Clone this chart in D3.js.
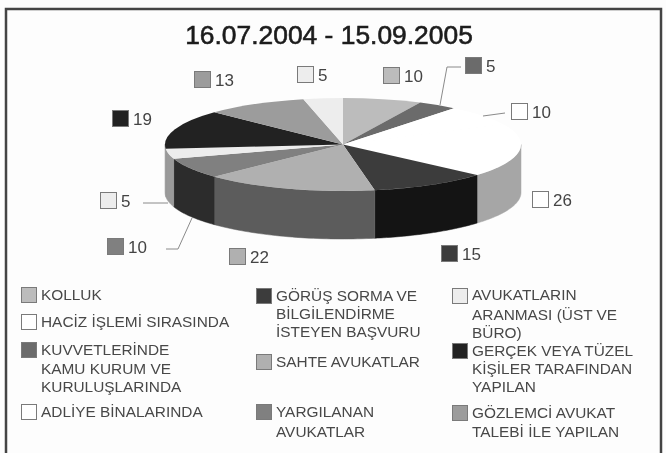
<!DOCTYPE html>
<html>
<head>
  <meta charset="utf-8">
  <title>16.07.2004 - 15.09.2005</title>
  <script src="https://d3js.org/d3.v7.min.js"></script>
  <style>
    body { margin: 0; background: #fdfdfd; overflow: hidden; }
    svg { display: block; filter: blur(0.55px); }
    text { font-family: "Liberation Sans", sans-serif; }
  </style>
</head>
<body>
  <svg id="chart" width="666" height="453"></svg>
  <script>
    // slice values, clockwise from 12 o'clock
    const sliceValues = [10, 5, 10, 26, 15, 22, 10, 5, 19, 13, 5];
    const sliceTopColors = ["#bcbcbc", "#6b6b6b", "#ffffff", "#ffffff", "#3c3c3c", "#b0b0b0", "#808080", "#ededed", "#222222", "#9c9c9c", "#ededed"];
    const sliceSideColors = ["#bcbcbc", "#6b6b6b", "#a6a6a6", "#a6a6a6", "#141414", "#5c5c5c", "#2c2c2c", "#9a9a9a", "#9a9a9a", "#9c9c9c", "#ededed"];

    // where each slice's value label goes: swatch left/top
    const labelX = [383, 465, 511, 532, 441, 229, 107, 100, 112, 194, 297];
    const labelY = [67, 57, 103, 191, 245, 248, 238, 192, 110, 71, 66];

    // leader lines
    const leaders = [
      [[440, 105], [447, 67], [461, 67]],
      [[483, 116], [505, 113]],
      [[143, 203], [168, 203]],
      [[192, 218], [178, 249], [166, 249]]
    ];

    const legendNames = [
      ["KOLLUK"],
      ["HACİZ İŞLEMİ SIRASINDA"],
      ["KUVVETLERİNDE", "KAMU KURUM VE", "KURULUŞLARINDA"],
      ["ADLİYE BİNALARINDA"],
      ["GÖRÜŞ SORMA VE", "BİLGİLENDİRME", "İSTEYEN BAŞVURU"],
      ["SAHTE AVUKATLAR"],
      ["YARGILANAN", "AVUKATLAR"],
      ["AVUKATLARIN", "ARANMASI (ÜST VE", "BÜRO)"],
      ["GERÇEK VEYA TÜZEL", "KİŞİLER TARAFINDAN", "YAPILAN"],
      ["GÖZLEMCİ AVUKAT", "TALEBİ İLE YAPILAN"]
    ];
    const legendColors = ["#bcbcbc", "#ffffff", "#6b6b6b", "#ffffff", "#3c3c3c", "#b0b0b0", "#808080", "#ededed", "#222222", "#9c9c9c"];
    const legendSwatchX = [21, 21, 21, 21, 256, 256, 256, 452, 452, 452];
    const legendSwatchY = [287, 314, 342, 404, 288, 354, 404, 288, 343, 405];
    const legendBaselines = [[300], [327], [355, 374, 392], [417], [301, 319, 337], [367], [417, 437], [300, 320, 338], [356, 374, 392], [418, 437]];

    const svg = d3.select("#chart");

    // frame, its bottom edge is cut off by the scan
    svg.append("rect")
      .attr("x", 6).attr("y", 9).attr("width", 655).attr("height", 460)
      .attr("fill", "#fdfdfd").attr("stroke", "#444").attr("stroke-width", 2.5);

    svg.append("text")
      .attr("x", 329).attr("y", 44)
      .attr("text-anchor", "middle")
      .attr("font-size", 26.4)
      .attr("fill", "#1c1c1c").attr("stroke", "#1c1c1c").attr("stroke-width", 0.6)
      .text("16.07.2004 - 15.09.2005");

    // the pie lies flat: top is an ellipse, wall hangs below it
    const cx = 343, cy = 144.5, rx = 178, ry = 46.5, depth = 48;
    const arcs = d3.pie().sort(null)(sliceValues);
    const px = a => cx + rx * Math.sin(a);
    const py = a => cy - ry * Math.cos(a);

    function wallPath(a0, a1) {
      const p = d3.path();
      p.moveTo(px(a0), py(a0));
      for (let i = 1; i <= 40; i++) {
        const a = a0 + (a1 - a0) * i / 40;
        p.lineTo(px(a), py(a));
      }
      for (let i = 40; i >= 0; i--) {
        const a = a0 + (a1 - a0) * i / 40;
        p.lineTo(px(a), py(a) + depth);
      }
      p.closePath();
      return p.toString();
    }

    // only the front half of the wall shows
    svg.append("g").selectAll("path")
      .data(arcs.filter(d => d.endAngle > Math.PI / 2 && d.startAngle < Math.PI * 1.5))
      .join("path")
      .attr("d", d => wallPath(Math.max(d.startAngle, Math.PI / 2), Math.min(d.endAngle, Math.PI * 1.5)))
      .attr("fill", d => sliceSideColors[d.index])
      .attr("stroke", d => sliceSideColors[d.index])
      .attr("stroke-width", 0.5);

    const arc = d3.arc().innerRadius(0).outerRadius(rx);
    svg.append("g")
      .attr("transform", `translate(${cx},${cy}) scale(1,${ry / rx})`)
      .selectAll("path")
      .data(arcs)
      .join("path")
      .attr("d", arc)
      .attr("fill", d => sliceTopColors[d.index]);

    // leaders
    svg.append("g").selectAll("path")
      .data(leaders)
      .join("path")
      .attr("d", d3.line())
      .attr("fill", "none").attr("stroke", "#8a8a8a").attr("stroke-width", 1);

    // value labels
    const valueLabels = svg.append("g").selectAll("g")
      .data(sliceValues)
      .join("g")
      .attr("transform", (d, i) => `translate(${labelX[i]},${labelY[i]})`);
    valueLabels.append("rect")
      .attr("x", 0.5).attr("y", 0.5).attr("width", 16).attr("height", 16)
      .attr("fill", (d, i) => sliceTopColors[i])
      .attr("stroke", "#7a7a7a").attr("stroke-width", 1);
    valueLabels.append("text")
      .attr("x", 21).attr("y", 15)
      .attr("font-size", 17)
      .attr("fill", "#444")
      .text(d => d);

    // legend
    const legend = svg.append("g").selectAll("g")
      .data(legendNames)
      .join("g");
    legend.append("rect")
      .attr("x", (d, i) => legendSwatchX[i] + 0.5)
      .attr("y", (d, i) => legendSwatchY[i] + 0.5)
      .attr("width", 15).attr("height", 15)
      .attr("fill", (d, i) => legendColors[i])
      .attr("stroke", "#7a7a7a").attr("stroke-width", 1);
    legend.each(function(lines, i) {
      d3.select(this).selectAll("text")
        .data(lines)
        .join("text")
        .attr("x", legendSwatchX[i] + 20)
        .attr("y", (d, j) => legendBaselines[i][j])
        .attr("font-size", 15.4)
        .attr("fill", "#484848")
        .text(d => d);
    });
  </script>
</body>
</html>
